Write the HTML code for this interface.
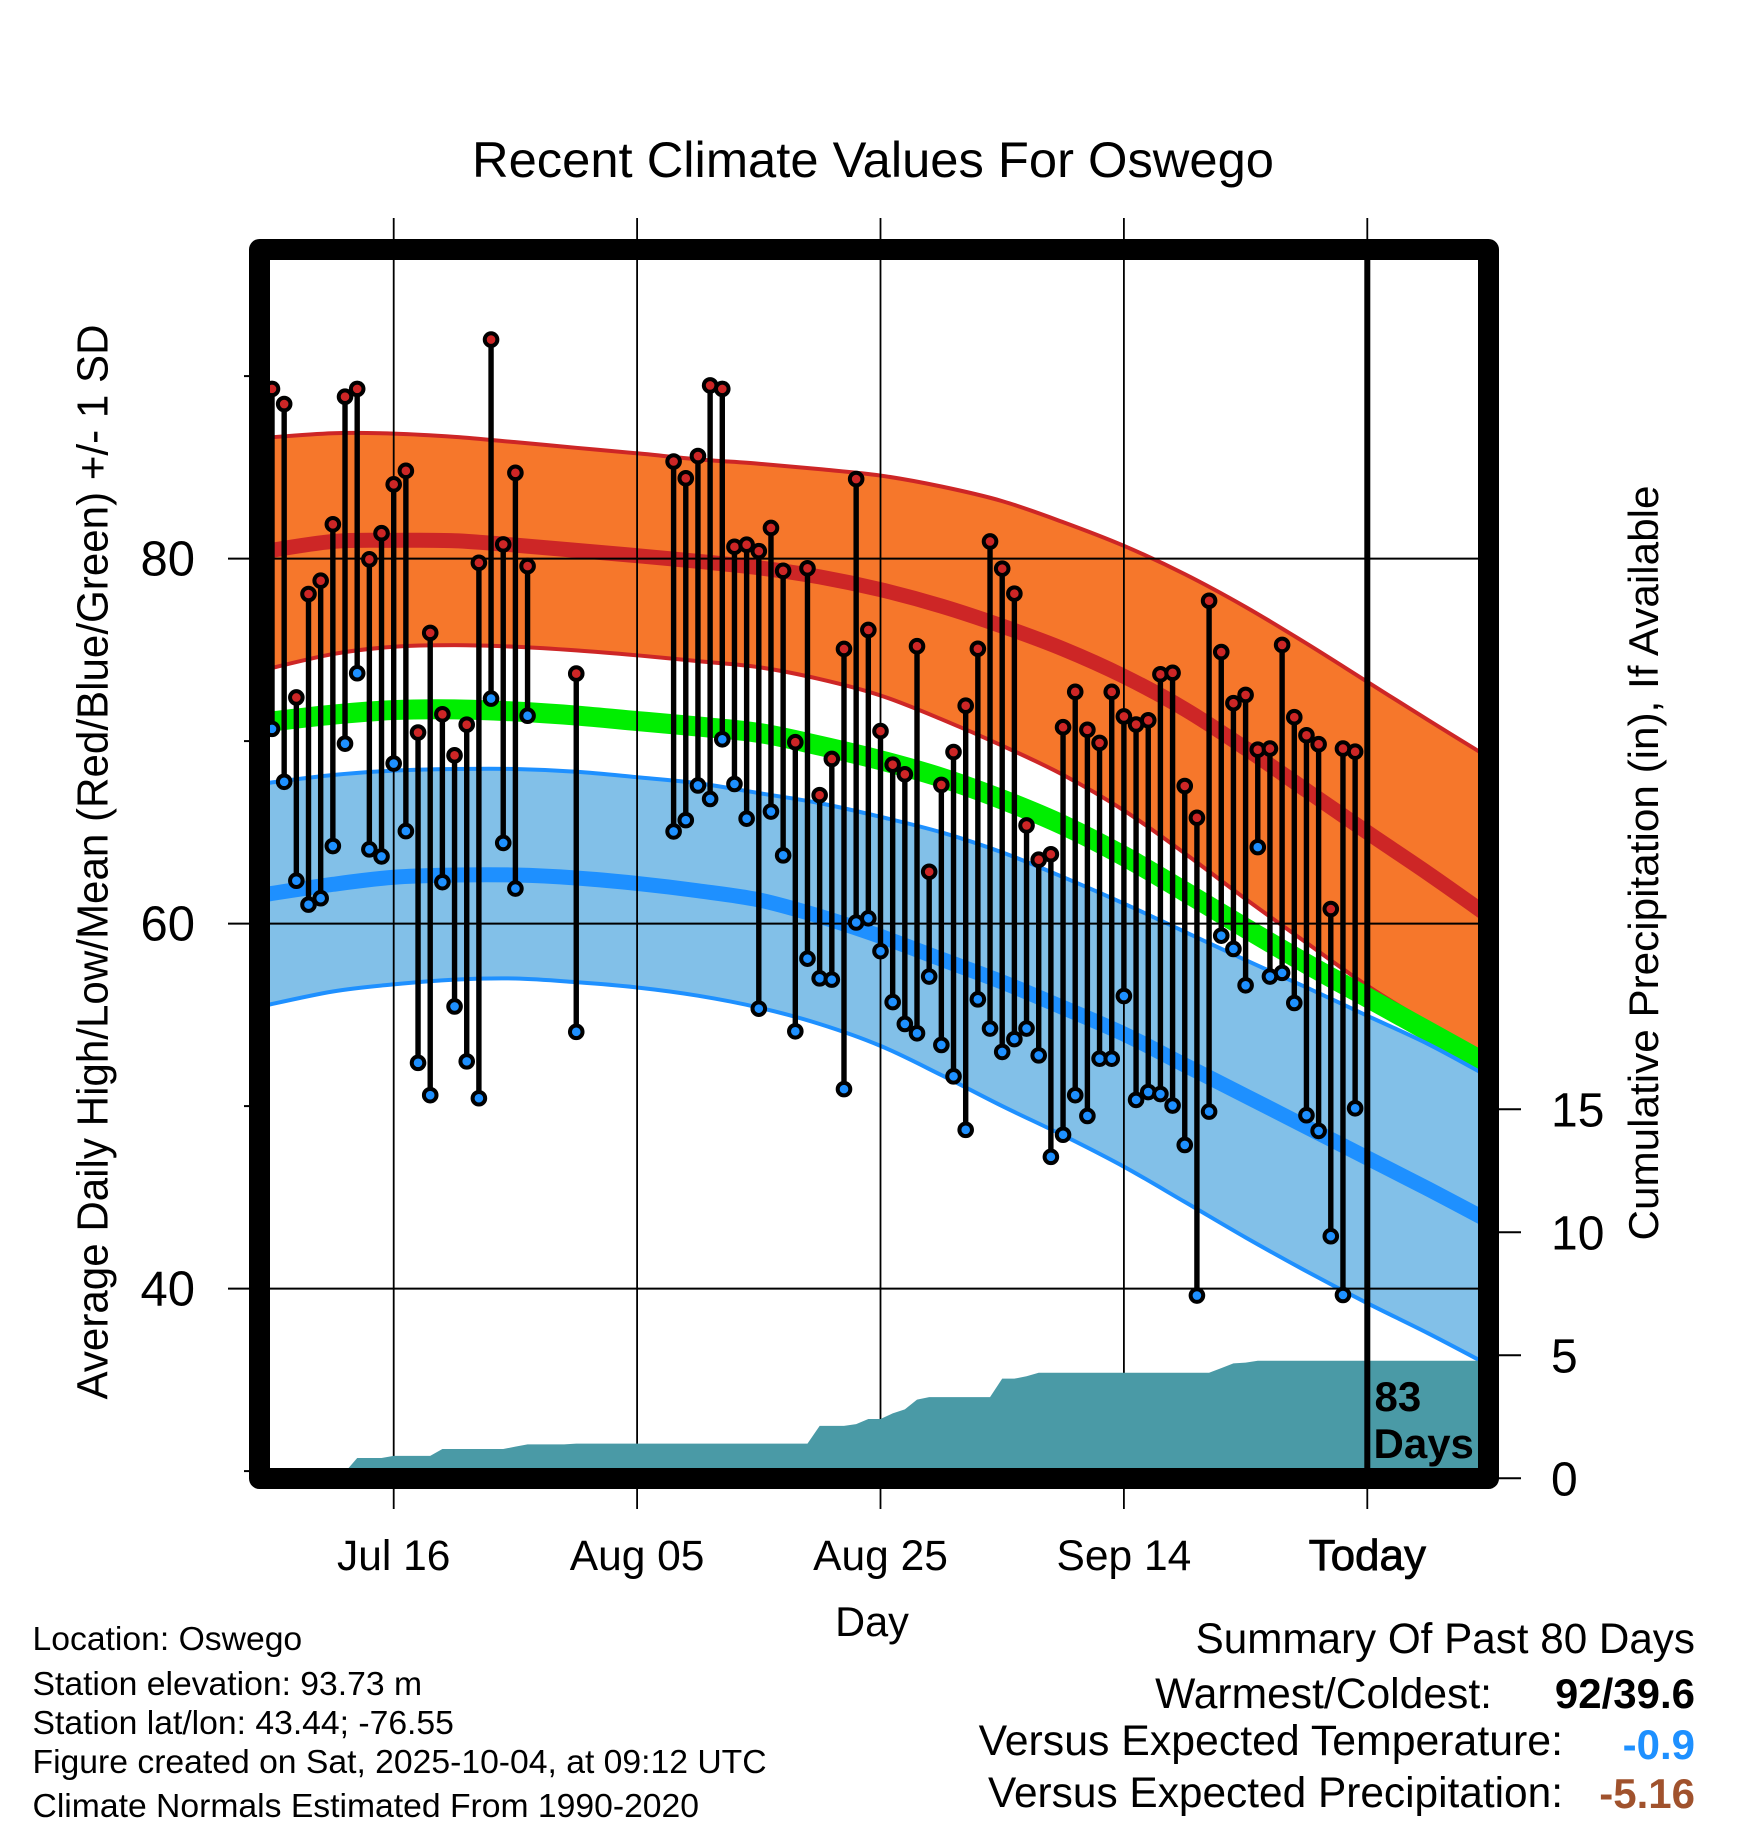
<!DOCTYPE html>
<html lang="en">
<head>
<meta charset="utf-8">
<title>Recent Climate Values For Oswego</title>
<style>
html,body{margin:0;padding:0;background:#fff}
svg{display:block}
text{font-family:"Liberation Sans",sans-serif;fill:#000}
</style>
</head>
<body>
<svg id="chart" xmlns="http://www.w3.org/2000/svg" width="1748" height="1828" viewBox="0 0 1748 1828">
<defs><clipPath id="plot-clip"><rect x="270" y="260" width="1208" height="1208"/></clipPath></defs>
<rect x="0" y="0" width="1748" height="1828" fill="#fff"/>
<g id="bands" clip-path="url(#plot-clip)"></g>
<g id="precip" clip-path="url(#plot-clip)"></g>
<g id="grid"></g>
<g id="marks"></g>
<rect x="259.5" y="249.5" width="1229" height="1229" fill="none" stroke="#000" stroke-width="21" stroke-linejoin="round"/>
<g id="labels"></g>

<text x="873" y="177" font-size="50" text-anchor="middle" textLength="802" lengthAdjust="spacingAndGlyphs">Recent Climate Values For Oswego</text>
<text transform="translate(107.5 862) rotate(-90)" font-size="44" text-anchor="middle" textLength="1075" lengthAdjust="spacingAndGlyphs">Average Daily High/Low/Mean (Red/Blue/Green) +/- 1 SD</text>
<text transform="translate(1658 863) rotate(-90)" font-size="42" text-anchor="middle" textLength="755" lengthAdjust="spacingAndGlyphs">Cumulative Precipitation (in), If Available</text>
<text x="872" y="1636" font-size="41.5" text-anchor="middle">Day</text>

<text x="1374.5" y="1411" font-size="42" font-weight="bold">83</text>
<text x="1373.5" y="1458" font-size="42" font-weight="bold">Days</text>

<g font-size="33.7">
<text x="32.5" y="1650">Location: Oswego</text>
<text x="32.5" y="1695">Station elevation: 93.73 m</text>
<text x="32.5" y="1734">Station lat/lon: 43.44; -76.55</text>
<text x="32.5" y="1773">Figure created on Sat, 2025-10-04, at 09:12 UTC</text>
<text x="32.5" y="1817">Climate Normals Estimated From 1990-2020</text>
</g>
<g text-anchor="end">
<text x="1695" y="1653" font-size="42.2">Summary Of Past 80 Days</text>
<text x="1492" y="1708" font-size="42.6">Warmest/Coldest:</text>
<text x="1695" y="1708" font-size="42" font-weight="bold">92/39.6</text>
<text x="1563" y="1755" font-size="42.8">Versus Expected Temperature:</text>
<text x="1695" y="1759" font-size="42" font-weight="bold" style="fill:#1e90ff">-0.9</text>
<text x="1563" y="1807" font-size="42.4">Versus Expected Precipitation:</text>
<text x="1695" y="1808" font-size="42" font-weight="bold" style="fill:#a0522d">-5.16</text>
</g>
</svg>
<script>
const highs = [89.3,88.47,72.39,78.06,78.79,81.88,88.87,89.3,79.96,81.39,84.07,84.81,70.47,75.93,71.47,69.22,70.9,79.77,92,80.78,84.7,79.59,null,null,null,73.7,null,null,null,null,null,null,null,85.32,84.4,85.62,89.49,89.3,80.65,80.76,80.41,81.68,79.33,69.94,79.47,67.04,69.02,75.05,84.36,76.09,70.55,68.71,68.18,75.2,62.84,67.6,69.4,71.94,75.06,80.94,79.45,78.08,65.38,63.5,63.8,70.76,72.7,70.62,69.9,72.7,71.35,70.91,71.14,73.66,73.74,67.54,65.8,77.69,74.88,72.08,72.53,69.53,69.59,75.27,71.31,70.32,69.83,60.8,69.59,69.42];
const lows = [70.67,67.77,62.35,61.04,61.39,64.25,69.86,73.72,64.07,63.68,68.77,65.07,52.37,50.6,62.27,55.46,52.45,50.43,72.33,64.42,61.92,71.39,null,null,null,54.07,null,null,null,null,null,null,null,65.05,65.67,67.57,66.83,70.1,67.65,65.75,55.34,66.14,63.74,54.1,58.08,57.0,56.93,50.93,60.06,60.29,58.49,55.7,54.5,53.99,57.1,53.35,51.63,48.7,55.85,54.25,52.97,53.67,54.25,52.78,47.22,48.43,50.6,49.46,52.6,52.6,56.03,50.34,50.77,50.66,50.03,47.87,39.62,49.7,59.34,58.61,56.62,64.19,57.1,57.3,55.65,49.5,48.64,42.87,39.65,49.88];
const normalDays = [-1,5,10,15,20,25,30,35,40,45,50,55,60,65,70,75,80,85,90,95,100];
const highUpper = [86.6,86.87,86.85,86.67,86.38,86.07,85.77,85.44,85.2,84.9,84.55,83.95,83.15,82.0,80.7,79.15,77.35,75.35,73.25,71.15,69.1];
const highMean = [80.35,80.94,81.0,80.98,80.74,80.45,80.16,79.85,79.5,79.0,78.3,77.4,76.3,75.05,73.55,71.75,69.6,67.3,65.0,62.75,60.4];
const highLower = [73.85,74.77,75.17,75.26,75.17,74.97,74.7,74.38,74.05,73.4,72.5,71.2,69.75,68.15,66.2,63.85,61.35,58.95,56.6,54.55,52.75];
const greenMean = [71.0,71.45,71.7,71.74,71.62,71.4,71.1,70.8,70.45,69.75,68.95,68.0,66.8,65.4,63.7,61.75,59.75,57.8,55.95,54.1,52.25];
const lowUpper = [67.65,68.14,68.38,68.47,68.47,68.32,68.02,67.69,67.15,66.6,65.85,65.0,63.9,62.55,61.1,59.55,58.0,56.5,54.95,53.4,51.6];
const lowMean = [61.55,62.15,62.54,62.66,62.66,62.5,62.2,61.8,61.3,60.4,59.3,58.05,56.8,55.4,53.95,52.25,50.56,48.86,47.16,45.46,43.7];
const lowLower = [55.45,56.28,56.67,56.93,56.99,56.79,56.5,56.05,55.4,54.5,53.3,51.7,50.0,48.4,46.68,44.75,42.8,40.95,39.2,37.55,35.8];
const precip = [0,0,0,0,0,0,0.25,0.825,0.825,0.825,0.91,0.91,0.91,0.91,1.19,1.19,1.19,1.19,1.19,1.19,1.29,1.38,1.38,1.38,1.38,1.41,1.41,1.41,1.41,1.41,1.41,1.41,1.41,1.41,1.41,1.41,1.41,1.41,1.41,1.41,1.41,1.41,1.41,1.41,1.41,2.13,2.13,2.13,2.2,2.41,2.41,2.64,2.8,3.2,3.3,3.3,3.3,3.3,3.3,3.3,4.05,4.05,4.15,4.29,4.29,4.29,4.29,4.29,4.29,4.29,4.29,4.29,4.29,4.29,4.29,4.29,4.29,4.29,4.48,4.67,4.7,4.78,4.78,4.78,4.78,4.78,4.78,4.78,4.78,4.78,4.78,4.78,4.78,4.78,4.78,4.78,4.78,4.78,4.78,4.78];
const dayTicks = [10,30,50,70,90];
const dayTickLabels = ['Jul 16','Aug 05','Aug 25','Sep 14','Today'];
const tempMajorTicks = [80,60,40];
const tempMinorTicks = [90,70,50,30];
const precipTicks = [0,5,10,15];

const NS = 'http://www.w3.org/2000/svg';
const xScale = d => 272 + 12.17 * d;
const yScale = t => 558.6 + (80 - t) * 18.25;
const pScale = p => 1478.3 - p * 24.6;

function el(tag, parent, attrs) {
  const n = document.createElementNS(NS, tag);
  for (const k in attrs) n.setAttribute(k, attrs[k]);
  parent.appendChild(n);
  return n;
}
function smooth(xs, ys) {
  const pts = xs.map((x, i) => [xScale(x), yScale(ys[i])]);
  let d = 'M' + pts[0][0].toFixed(2) + ' ' + pts[0][1].toFixed(2);
  for (let i = 0; i < pts.length - 1; i++) {
    const p0 = pts[Math.max(i - 1, 0)], p1 = pts[i], p2 = pts[i + 1], p3 = pts[Math.min(i + 2, pts.length - 1)];
    d += 'C' + (p1[0] + (p2[0] - p0[0]) / 6).toFixed(2) + ' ' + (p1[1] + (p2[1] - p0[1]) / 6).toFixed(2) + ' ' +
         (p2[0] - (p3[0] - p1[0]) / 6).toFixed(2) + ' ' + (p2[1] - (p3[1] - p1[1]) / 6).toFixed(2) + ' ' +
         p2[0].toFixed(2) + ' ' + p2[1].toFixed(2);
  }
  return d;
}
function bandPath(upper, lower) {
  const a = smooth(normalDays, upper);
  const b = smooth(normalDays.slice().reverse(), lower.slice().reverse());
  return a + 'L' + b.slice(1) + 'Z';
}

const bands = document.getElementById('bands');
const orangeFill = el('path', bands, {d: bandPath(highUpper, highLower), fill: '#f6772b'});


const highUpperLine = el('path', bands, {d: smooth(normalDays, highUpper), fill: 'none', stroke: '#cd2626', 'stroke-width': 4});


const highLowerLine = el('path', bands, {d: smooth(normalDays, highLower), fill: 'none', stroke: '#cd2626', 'stroke-width': 4});


const highMeanLine = el('path', bands, {d: smooth(normalDays, highMean), fill: 'none', stroke: '#cd2626', 'stroke-width': 15});


const greenLine = el('path', bands, {d: smooth(normalDays, greenMean), fill: 'none', stroke: '#00ee00', 'stroke-width': 20});


const blueFill = el('path', bands, {d: bandPath(lowUpper, lowLower), fill: '#82c0e8'});


const lowUpperLine = el('path', bands, {d: smooth(normalDays, lowUpper), fill: 'none', stroke: '#1e90ff', 'stroke-width': 4});


const lowLowerLine = el('path', bands, {d: smooth(normalDays, lowLower), fill: 'none', stroke: '#1e90ff', 'stroke-width': 4});


const lowMeanLine = el('path', bands, {d: smooth(normalDays, lowMean), fill: 'none', stroke: '#1e90ff', 'stroke-width': 15});



const grid = document.getElementById('grid');
dayTicks.forEach(d => {
  const v = el('line', grid, {x1: xScale(d), x2: xScale(d), y1: 218, y2: 1509, stroke: '#000', 'stroke-width': 1.8});
  
  
});
tempMajorTicks.forEach(t => {
  const h = el('line', grid, {x1: 228, x2: 1478, y1: yScale(t), y2: yScale(t), stroke: '#000', 'stroke-width': 2});
  
  
});
tempMinorTicks.forEach(t => {
  const m = el('line', grid, {x1: 244, x2: 252, y1: yScale(t), y2: yScale(t), stroke: '#000', 'stroke-width': 2});
  
  
});
precipTicks.forEach(p => {
  const r = el('line', grid, {x1: 1496, x2: 1521, y1: pScale(p), y2: pScale(p), stroke: '#000', 'stroke-width': 2});
  
  
});

const precipG = document.getElementById('precip');
let pts = xScale(0) + ',' + pScale(0);
precip.forEach((p, i) => { pts += ' ' + xScale(i).toFixed(2) + ',' + pScale(p).toFixed(2); });
pts += ' ' + xScale(100).toFixed(2) + ',' + pScale(precip[precip.length - 1]).toFixed(2);
pts += ' ' + xScale(100).toFixed(2) + ',' + pScale(0);
const area = el('polygon', precipG, {points: pts, fill: '#4a9aa6'});


// gridlines stay above the bands but beneath the precipitation area
document.getElementById('chart').insertBefore(grid, precipG);

const marks = document.getElementById('marks');
highs.forEach((hi, i) => {
  if (hi === null || lows[i] === null) return;
  const stem = el('line', marks, {x1: xScale(i), x2: xScale(i), y1: yScale(hi), y2: yScale(lows[i]), stroke: '#000', 'stroke-width': 5.4});
  
  
  const lo = el('circle', marks, {cx: xScale(i), cy: yScale(lows[i]), r: 6.3, fill: '#1e90ff', stroke: '#000', 'stroke-width': 4});
  
  
  const up = el('circle', marks, {cx: xScale(i), cy: yScale(hi), r: 6.3, fill: '#cd2626', stroke: '#000', 'stroke-width': 4});
  
  
});
const todayLine = el('line', marks, {x1: xScale(dayTicks[4]), x2: xScale(dayTicks[4]), y1: 260, y2: 1468, stroke: '#000', 'stroke-width': 6});



const labels = document.getElementById('labels');
dayTicks.forEach((d, i) => {
  const t = el('text', labels, {x: xScale(d), y: 1570, 'font-size': 42.5, 'text-anchor': 'middle'});
  
  
  t.textContent = dayTickLabels[i];
  if (dayTickLabels[i] === 'Today') { t.setAttribute('font-size', '44'); t.setAttribute('stroke', '#000'); t.setAttribute('stroke-width', '0.8'); }
});
tempMajorTicks.forEach(v => {
  const t = el('text', labels, {x: 195, y: yScale(v) + 17, 'font-size': 49, 'text-anchor': 'end'});
  
  
  t.textContent = v;
});
precipTicks.forEach(v => {
  const t = el('text', labels, {x: 1551, y: pScale(v) + 17, 'font-size': 48});
  
  
  t.textContent = v;
});
</script>
</body>
</html>
